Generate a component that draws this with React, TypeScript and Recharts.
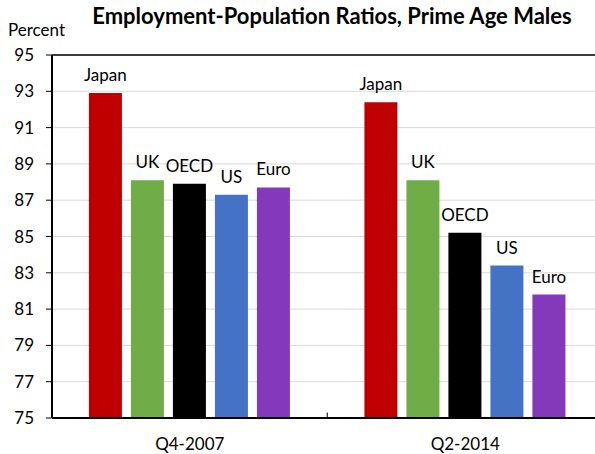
import { Bar, BarChart, CartesianGrid, LabelList, ReferenceLine, XAxis, YAxis } from "recharts";

const periods = ["Q4-2007", "Q2-2014"];
const seriesNames = ["Japan", "UK", "OECD", "US", "Euro"];
const japan = [92.9, 92.4];
const uk = [88.1, 88.1];
const oecd = [87.9, 85.2];
const us = [87.3, 83.4];
const euro = [87.7, 81.8];
const yTicks = [75, 77, 79, 81, 83, 85, 87, 89, 91, 93, 95];

const colors = ["#c00000", "#70ad47", "#000000", "#4472c4", "#8339ba"];
const values = [japan, uk, oecd, us, euro];

const data = periods.map((p, i) => {
	const row: Record<string, string | number> = { period: p };
	seriesNames.forEach((n, j) => {
		row[n] = values[j][i];
	});
	return row;
});

const font = "Lato, 'Open Sans', sans-serif";

export default function App() {
	return (
		<div
			style={{
				position: "fixed",
				left: 0,
				top: 0,
				width: 595,
				height: 454,
				overflow: "hidden",
				background: "#fff",
				fontFamily: font,
			}}
		>
			<div
				style={{
					position: "absolute",
					left: 0,
					width: 664,
					top: 2,
					textAlign: "center",
					fontWeight: 700,
					fontSize: 22,
					color: "#000",
				}}
			>
				Employment-Population Ratios, Prime Age Males
			</div>
			<div style={{ position: "absolute", left: 8, top: 19, fontSize: 17, color: "#000" }}>
				Percent
			</div>
			<BarChart
				width={603}
				height={454}
				data={data}
				margin={{ top: 55, right: 0, bottom: 0, left: 0 }}
				barCategoryGap='13.4%'
				barGap={9}
			>
				<CartesianGrid vertical={false} stroke='#d9d9d9' />
				<XAxis
					dataKey='period'
					height={36}
					tickLine={false}
					tickMargin={14}
					axisLine={{ stroke: "#000", strokeWidth: 2 }}
					tick={{ fill: "#000", fontSize: 17, fontFamily: font }}
				/>
				<YAxis
					width={52}
					domain={[75, 95]}
					ticks={yTicks}
					interval={0}
					allowDataOverflow
					tickSize={6}
					tickMargin={12}
					axisLine={{ stroke: "#000", strokeWidth: 2 }}
					tickLine={{ stroke: "#000" }}
					tick={{ fill: "#000", fontSize: 17, fontFamily: font }}
				/>
				<ReferenceLine y={95} stroke='#000' strokeWidth={1.5} />
				<ReferenceLine
					segment={[
						{ x: "Q2-2014", y: 75 },
						{ x: "Q2-2014", y: 75.3 },
					]}
					stroke='#000'
					transform='translate(-138 0)'
				/>
				{seriesNames.map((n, j) => (
					<Bar key={n} dataKey={n} fill={colors[j]} isAnimationActive={false}>
						<LabelList
							dataKey={n}
							position='top'
							offset={12}
							formatter={() => n}
							style={{ fill: "#000", fontSize: 17, fontFamily: font }}
						/>
					</Bar>
				))}
			</BarChart>
		</div>
	);
}
